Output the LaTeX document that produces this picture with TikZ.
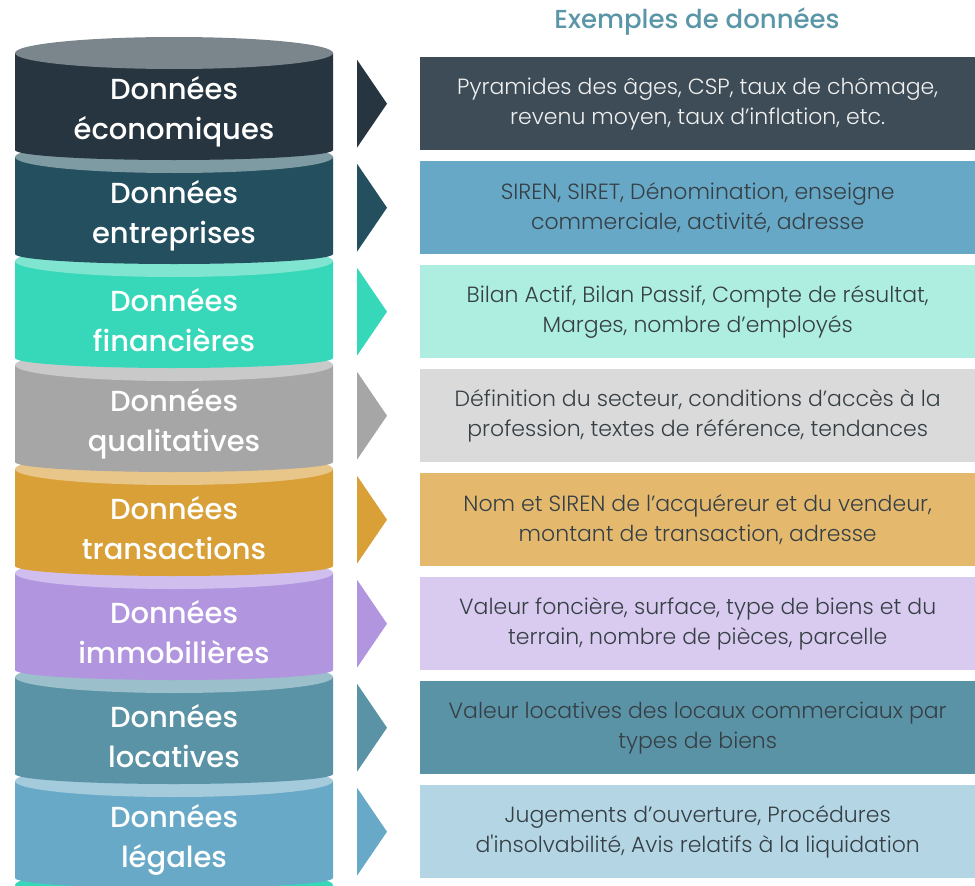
\documentclass[tikz,border=0pt]{standalone}
\usepackage{fontspec}
\setmainfont{Poppins}
\newfontfamily\labelfont{Poppins Medium}
\newfontfamily\boxfont{Poppins Light}
\usepackage{color}
\usetikzlibrary{positioning}

% cylinder bodies, lighter tops and example boxes
\definecolor{cEco}{HTML}{26353F}  \definecolor{cEcoL}{HTML}{7B858C} \definecolor{bEco}{HTML}{3D4C56}
\definecolor{cEnt}{HTML}{234F5F}  \definecolor{cEntL}{HTML}{7E9AA3} \definecolor{bEnt}{HTML}{67A8C6}
\definecolor{cFin}{HTML}{37D8B9}  \definecolor{cFinL}{HTML}{7FE5D1} \definecolor{bFin}{HTML}{AEEEE1}
\definecolor{cQua}{HTML}{A6A6A6}  \definecolor{cQuaL}{HTML}{C9C9C9} \definecolor{bQua}{HTML}{DADADA}
\definecolor{cTra}{HTML}{D9A037}  \definecolor{cTraL}{HTML}{E8C588} \definecolor{bTra}{HTML}{E4B96E}
\definecolor{cImm}{HTML}{B195DF}  \definecolor{cImmL}{HTML}{D0BFEE} \definecolor{bImm}{HTML}{D9CBEF}
\definecolor{cLoc}{HTML}{5A93A6}  \definecolor{cLocL}{HTML}{9BBFCB} \definecolor{bLoc}{HTML}{5B93A6}
\definecolor{cLeg}{HTML}{67A9C7}  \definecolor{cLegL}{HTML}{A3CBDC} \definecolor{bLeg}{HTML}{B4D6E4}
\definecolor{txtDark}{HTML}{353F45}
\definecolor{txtLight}{HTML}{F0F0F0}
\definecolor{titleBlue}{HTML}{5A96A8}

\begin{document}
\begin{tikzpicture}[x=1pt,y=-1pt,
  seglabel/.style={text=white,align=center,font=\labelfont\fontsize{29}{40}\selectfont},
  exbox/.style={anchor=north west,minimum width=555pt,minimum height=93pt,inner sep=0pt,
    align=center,font=\boxfont\fontsize{22}{30}\selectfont},
  title/.style={text=titleBlue,font=\labelfont\fontsize{26}{30}\selectfont}]
  \useasboundingbox (0,0) rectangle (975,886);

  % stack of cylinders, drawn from the bottom up
  \fill[cFin] (174,885) ellipse[x radius=159pt,y radius=16pt];
  \foreach \n/\col/\lite/\txt [evaluate=\n as \c using 53+104*(\n-1)] in {
    8/cLeg/cLegL/{Données\\légales},
    7/cLoc/cLocL/{Données\\locatives},
    6/cImm/cImmL/{Données\\immobilières},
    5/cTra/cTraL/{Données\\transactions},
    4/cQua/cQuaL/{Données\\qualitatives},
    3/cFin/cFinL/{Données\\financières},
    2/cEnt/cEntL/{Données\\entreprises},
    1/cEco/cEcoL/{Données\\économiques}}
  {
    \fill[\col] (15,\c) -- (15,\c+97)
      arc[start angle=180,end angle=360,x radius=159pt,y radius=10pt] -- (333,\c) -- cycle;
    \fill[\lite] (174,\c) ellipse[x radius=159pt,y radius=16pt];
    \node[seglabel] (seg-\n) at (174,\c+59) {\txt};
  }

  % example boxes with their pointers
  \foreach \n/\col/\tri/\fg/\txt in {
    1/bEco/cEco/txtLight/{Pyramides des âges, CSP, taux de chômage,\\revenu moyen, taux d’inflation, etc.},
    2/bEnt/cEnt/txtDark/{SIREN, SIRET, Dénomination, enseigne\\commerciale, activité, adresse},
    3/bFin/cFin/txtDark/{Bilan Actif, Bilan Passif, Compte de résultat,\\Marges, nombre d’employés},
    4/bQua/cQua/txtDark/{Définition du secteur, conditions d’accès à la\\profession, textes de référence, tendances},
    5/bTra/cTra/txtDark/{Nom et SIREN de l’acquéreur et du vendeur,\\montant de transaction, adresse},
    6/bImm/cImm/txtDark/{Valeur foncière, surface, type de biens et du\\terrain, nombre de pièces, parcelle},
    7/bLoc/cLoc/txtDark/{Valeur locatives des locaux commerciaux par\\types de biens},
    8/bLeg/cLeg/txtDark/{Jugements d’ouverture, Procédures\\d'insolvabilité, Avis relatifs à la liquidation}}
  {
    \node[exbox,fill=\col,text=\fg] (ex-\n) at (420,{57+104*(\n-1)}) {\txt};
    \fill[\tri,shift={(ex-\n.west)}] (-63,-44) -- (-33,0) -- (-63,44) -- cycle;
  }

  \node[title] (head) at (697,22) {Exemples de données};
\end{tikzpicture}
\end{document}
